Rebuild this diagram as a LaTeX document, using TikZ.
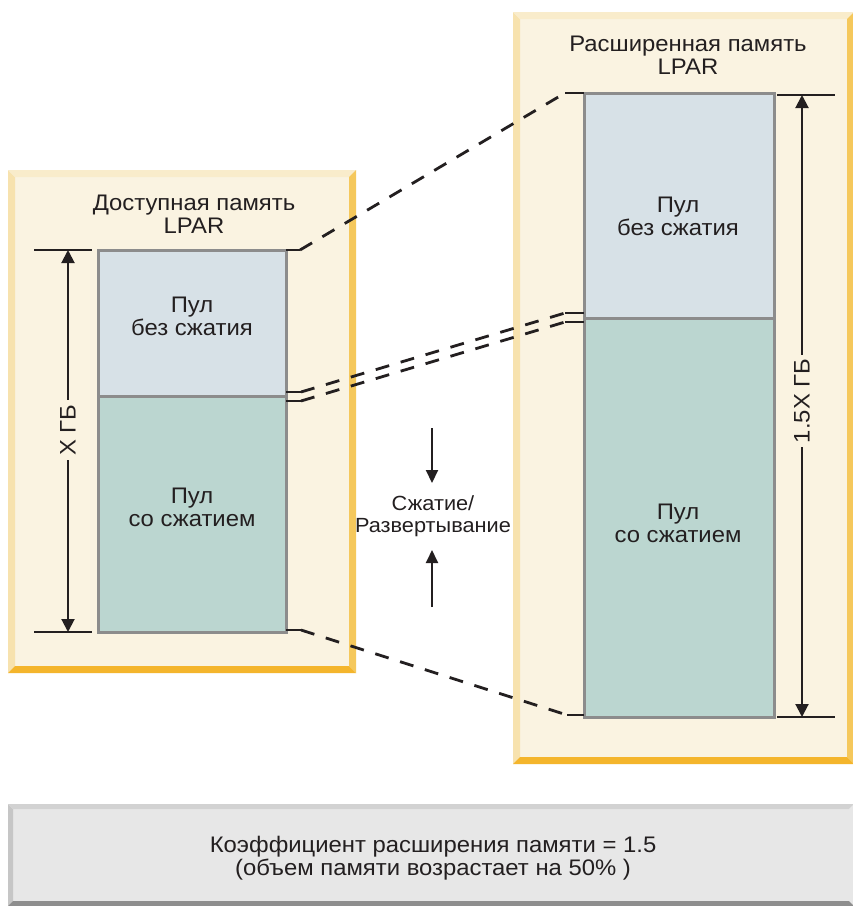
\documentclass[tikz,border=0pt]{standalone}
\usepackage{fontspec}
\setmainfont{Liberation Sans}[FakeStretch=1.06]
\usetikzlibrary{arrows.meta,calc}
\definecolor{cream}{HTML}{FAF3E1}
\definecolor{bevlight}{HTML}{F7E2AE}
\definecolor{bevtop}{HTML}{F9ECCB}
\definecolor{bevright}{HTML}{F5C85C}
\definecolor{bevbottom}{HTML}{F4B52C}
\definecolor{notefill}{HTML}{E7E7E7}
\definecolor{noteleft}{HTML}{C6C6C6}
\definecolor{notetop}{HTML}{D2D2D2}
\definecolor{notebottom}{HTML}{8E8E8E}
\definecolor{poolborder}{HTML}{8C8C8C}
\definecolor{freefill}{HTML}{D7E1E7}
\definecolor{packfill}{HTML}{BBD6D0}
\definecolor{ink}{HTML}{231F20}

% bevelled panel: left, top, right, bottom, bevel width, style prefix
\newcommand\bevelrect[6]{%
  \fill[#6 face] (#1,#2) rectangle (#3,#4);
  \fill[#6 left] (#1,#2) -- (#1+#5,#2+#5) -- (#1+#5,#4-#5) -- (#1,#4) -- cycle;
  \fill[#6 top] (#1,#2) -- (#3,#2) -- (#3-#5,#2+#5) -- (#1+#5,#2+#5) -- cycle;
  \fill[#6 right] (#3,#2) -- (#3,#4) -- (#3-#5,#4-#5) -- (#3-#5,#2+#5) -- cycle;
  \fill[#6 bottom] (#1,#4) -- (#3,#4) -- (#3-#5,#4-#5) -- (#1+#5,#4-#5) -- cycle;
}

\tikzset{
  pn face/.style={fill=cream},
  pn left/.style={fill=bevlight},
  pn top/.style={fill=bevtop},
  pn right/.style={fill=bevright},
  pn bottom/.style={fill=bevbottom},
  nt face/.style={fill=notefill},
  nt left/.style={fill=noteleft},
  nt top/.style={fill=notetop},
  nt right/.style={fill=notefill},
  nt bottom/.style={fill=notebottom},
  txt/.style={text=ink, align=center, inner sep=1pt, font=\fontsize{22.5}{23}\selectfont},
  smalltxt/.style={txt, font=\fontsize{20.5}{22}\selectfont},
  pool/.style={draw=poolborder, line width=3pt, anchor=north west, inner sep=0pt, outer sep=0pt},
  freepool/.style={pool, fill=freefill},
  packpool/.style={pool, fill=packfill},
  tick/.style={draw=ink, line width=2pt},
  dimarrow/.style={draw=ink, line width=2pt, {Triangle[length=13pt,width=13pt]}-{Triangle[length=13pt,width=13pt]}},
  flowarrow/.style={draw=ink, line width=2pt, -{Triangle[length=13pt,width=12pt]}},
  link/.style={draw=ink, line width=2.8pt},
  dashlink/.style={link, dash pattern=on 14pt off 12pt},
}

\begin{document}
\begin{tikzpicture}[x=1pt,y=-1pt]
\useasboundingbox (0,0) rectangle (853,906);
\fill[white] (0,0) rectangle (853,906);

% panels
\bevelrect{8}{170}{356}{673}{7}{pn}
\bevelrect{513}{12}{854}{764}{7}{pn}
\bevelrect{8}{804}{854}{906}{5}{nt}

% panel titles
\node[txt] (ltitle) at (194,214) {Доступная память\\LPAR};
\node[txt] (rtitle) at (688,55) {Расширенная память\\LPAR};

% memory pools
\node[freepool, minimum width=188pt, minimum height=146pt] (lfree) at (98,250) {};
\node[packpool, minimum width=188pt, minimum height=236pt] (lpack) at (98,396) {};
\node[freepool, minimum width=190pt, minimum height=225pt] (rfree) at (584,93) {};
\node[packpool, minimum width=190pt, minimum height=399pt] (rpack) at (584,318) {};

\node[txt] (lfreet) at (192,316) {Пул\\без сжатия};
\node[txt] (lpackt) at (192,507) {Пул\\со сжатием};
\node[txt] (rfreet) at (678,216) {Пул\\без сжатия};
\node[txt] (rpackt) at (678,523) {Пул\\со сжатием};

% size marks, left
\coordinate (ltA) at (34,250);
\coordinate (ltB) at (92,250);
\coordinate (lbA) at (34,632);
\coordinate (lbB) at (92,632);
\coordinate (ldimT) at (68,250);
\coordinate (ldimB) at (68,632);
\draw[tick] (ltA) -- (ltB);
\draw[tick] (lbA) -- (lbB);
\draw[dimarrow] (ldimT) -- (ldimB);
\node[txt, fill=cream, rotate=90, inner sep=4pt] (ldim) at (68,430) {X ГБ};

% size marks, right
\coordinate (rtA) at (777,95);
\coordinate (rtB) at (835,95);
\coordinate (rbA) at (777,717);
\coordinate (rbB) at (835,717);
\coordinate (rdimT) at (802,95);
\coordinate (rdimB) at (802,717);
\draw[tick] (rtA) -- (rtB);
\draw[tick] (rbA) -- (rbB);
\draw[dimarrow] (rdimT) -- (rdimB);
\node[txt, fill=cream, rotate=90, inner sep=4pt] (rdim) at (802,401) {1.5X ГБ};

% links between the two layouts
\coordinate (k1a) at (300,250);
\coordinate (k1b) at (565,93);
\draw[link] (lfree.north east) -- (k1a);
\draw[dashlink] (k1a) -- (k1b);
\draw[link] (k1b) -- (rfree.north west);

\coordinate (k2s) at (286,392);
\coordinate (k2a) at (301,392);
\coordinate (k2b) at (565,313);
\coordinate (k2e) at (584,313);
\draw[link] (k2s) -- (k2a);
\draw[dashlink] (k2a) -- (k2b);
\draw[link] (k2b) -- (k2e);

\coordinate (k3s) at (286,401);
\coordinate (k3a) at (301,401);
\coordinate (k3b) at (565,322);
\coordinate (k3e) at (584,322);
\draw[link] (k3s) -- (k3a);
\draw[dashlink] (k3a) -- (k3b);
\draw[link] (k3b) -- (k3e);

\coordinate (k4s) at (286,630);
\coordinate (k4a) at (301,630);
\coordinate (k4b) at (567,715);
\coordinate (k4e) at (584,715);
\draw[link] (k4s) -- (k4a);
\draw[dashlink] (k4a) -- (k4b);
\draw[link] (k4b) -- (k4e);

% compression / expansion
\node[smalltxt] (comp) at (433,516) {Сжатие/\\Развертывание};
\coordinate (downtail) at (432,428);
\coordinate (uptail) at (432,607);
\draw[flowarrow] (downtail) -- (downtail |- 0,483);
\draw[flowarrow] (uptail) -- (uptail |- 0,550);

% expansion factor note
\node[txt] (note) at (433,858) {Коэффициент расширения памяти = 1.5\\(объем памяти возрастает на 50\% )};
\end{tikzpicture}
\end{document}
